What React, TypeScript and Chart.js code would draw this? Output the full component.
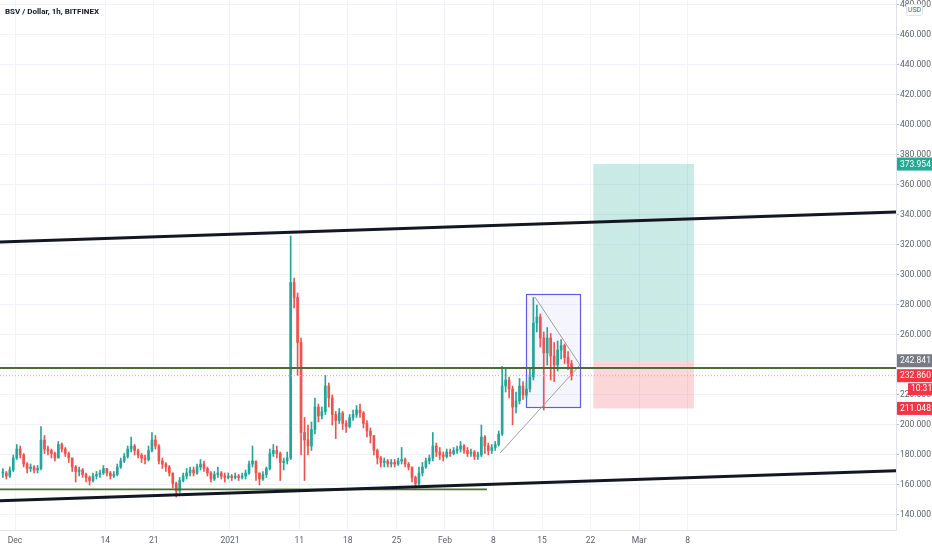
import React, { useEffect, useRef } from "react";
import { Chart, registerables } from "chart.js";

Chart.register(...registerables);

// ---- time axis: days counted from 1 Dec 2020 00:00, 12h candles ----
const candleStartDay = -2;
const candleStepDays = 0.5;
const firstOpen = 168;

const closes = [
  168, 166, 170, 178, 184, 180, 174, 171, 172, 170, 171, 190, 184, 183, 181, 178, 187, 184, 181, 178,
  172, 169, 170, 167, 165, 163, 166, 167, 168, 171, 168, 166, 167, 172, 176, 179, 184, 186, 183, 180,
  178, 177, 183, 190, 186, 176, 174, 172, 168, 161, 156, 163, 166, 168, 170, 168, 172, 174, 171, 168,
  164, 167, 168, 166, 165, 166, 165, 166, 165, 166, 168, 174, 176, 168, 164, 167, 171, 181, 183, 181,
  175, 176, 178, 295, 285, 255, 195, 190, 186, 197, 212, 206, 209, 226, 218, 207, 203, 208, 201, 199,
  205, 207, 210, 208, 201, 196, 193, 183, 178, 175, 176, 174, 175, 174, 176, 177, 174, 172, 165, 161,
  168, 172, 176, 178, 186, 182, 180, 179, 182, 181, 183, 184, 186, 183, 181, 182, 179, 180, 192, 186,
  183, 185, 187, 194, 226, 230, 224, 212, 216, 226, 220, 224, 232, 268, 272, 258, 248, 258, 246, 240,
  250, 253, 245, 241, 232.86,
];
const highs = [
  171, 169, 172, 180, 187, 186, 181, 175, 174, 173, 173, 199, 193, 186, 184, 182, 189, 188, 185, 182,
  178, 173, 172, 171, 168, 166, 168, 169, 170, 173, 171, 169, 169, 174, 178, 181, 186, 192, 187, 184,
  181, 180, 186, 195, 193, 187, 178, 175, 173, 168, 162, 165, 168, 171, 172, 172, 174, 177, 176, 172,
  169, 169, 172, 169, 168, 168, 167, 168, 167, 168, 170, 176, 186, 176, 168, 169, 172, 184, 187, 186,
  182, 178, 182, 326, 298, 288, 258, 205, 200, 202, 218, 214, 212, 233, 228, 220, 209, 211, 209, 203,
  207, 210, 213, 214, 209, 203, 198, 193, 184, 179, 178, 177, 177, 177, 178, 185, 178, 175, 172, 166,
  172, 175, 178, 180, 195, 188, 185, 182, 184, 184, 185, 186, 189, 187, 185, 184, 183, 182, 200, 193,
  188, 187, 189, 196, 239, 238, 232, 226, 222, 231, 229, 229, 238, 285, 280, 274, 262, 265, 261, 255,
  256, 257, 254, 249, 243,
];
const lows = [
  165, 164, 165, 169, 177, 178, 172, 168, 169, 168, 168, 170, 181, 180, 178, 176, 178, 182, 179, 175,
  169, 162, 166, 165, 162, 160, 162, 164, 165, 167, 166, 164, 165, 166, 171, 175, 178, 182, 180, 178,
  175, 174, 176, 182, 184, 174, 171, 169, 166, 158, 152, 155, 162, 164, 166, 166, 167, 170, 169, 166,
  162, 163, 165, 164, 162, 164, 163, 164, 163, 164, 164, 167, 172, 163, 160, 163, 165, 170, 179, 178,
  163, 170, 174, 177, 278, 233, 180, 163, 180, 183, 194, 202, 204, 207, 212, 200, 191, 201, 197, 195,
  198, 203, 205, 205, 198, 192, 188, 180, 174, 172, 172, 172, 172, 172, 173, 174, 172, 170, 162, 158,
  160, 166, 171, 174, 176, 179, 177, 176, 178, 179, 180, 181, 182, 181, 179, 179, 177, 177, 179, 181,
  180, 181, 183, 186, 193, 222, 218, 200, 208, 214, 217, 218, 222, 230, 262, 252, 210, 240, 230, 229,
  236, 244, 241, 237, 230,
];

// ---- axes ----
const xMinDay = -2.163;
const xMaxDay = 127.04;
const xTickDays = [0, 13, 20, 31, 41, 48, 55, 62, 69, 76, 83, 90, 97];
const xTickLabels = ["Dec", "14", "21", "2021", "11", "18", "25", "Feb", "8", "15", "22", "Mar", "8"];
const yMinPrice = 130;
const yMaxPrice = 483.33;
const yTickValues = [140, 160, 180, 200, 220, 240, 260, 280, 300, 320, 340, 360, 380, 400, 420, 440, 460, 480];

// ---- drawings: [day, price] ----
const upperTrend = [[-2.163, 322], [127.04, 342]];
const lowerTrend = [[-2.163, 149.5], [127.04, 169.5]];
const resistanceLine = [[-2.163, 238], [127.04, 238]];
const supportLine = [[-2.163, 157.1], [68.06, 157.1]];
const triangleUpper = [[74.98, 285.3], [81.47, 240]];
const triangleLower = [[69.94, 181.3], [81.47, 240]];
const boxDays = [73.68, 81.51];
const boxPrices = [211.5, 287.1];
const positionDays = [83.4, 97.9];
const lastPrice = 232.86;
const entryPrice = 242.841;
const targetPrice = 373.954;
const stopPrice = 211.048;
const countdownText = "10:31";

const UP = "#26a69a";
const DOWN = "#ef5350";
const GRID = "#f0f3fa";
const AXIS_TEXT = "#5d606b";
const FONT = "'Liberation Sans Narrow', Roboto, 'Noto Sans', sans-serif";

const overlayPlugin = {
  id: "overlay",
  beforeDatasetsDraw(chart: any) {
    const { ctx, chartArea, scales } = chart;
    const x = scales.x;
    const y = scales.y;
    ctx.save();
    ctx.beginPath();
    ctx.rect(chartArea.left, chartArea.top, chartArea.right - chartArea.left, chartArea.bottom - chartArea.top);
    ctx.clip();
    // long position box
    const p0 = x.getPixelForValue(positionDays[0]);
    const p1 = x.getPixelForValue(positionDays[1]);
    const yT = y.getPixelForValue(targetPrice);
    const yE = y.getPixelForValue(entryPrice);
    const yS = y.getPixelForValue(stopPrice);
    ctx.fillStyle = "rgba(34,171,148,0.24)";
    ctx.fillRect(p0, yT, p1 - p0, yE - yT);
    ctx.fillStyle = "rgba(242,54,69,0.2)";
    ctx.fillRect(p0, yE, p1 - p0, yS - yE);
    // rectangle around the triangle
    const b0 = x.getPixelForValue(boxDays[0]);
    const b1 = x.getPixelForValue(boxDays[1]);
    const bt = y.getPixelForValue(boxPrices[1]);
    const bb = y.getPixelForValue(boxPrices[0]);
    ctx.fillStyle = "rgba(93,95,223,0.06)";
    ctx.fillRect(b0, bt, b1 - b0, bb - bt);
    ctx.strokeStyle = "#5d5fdf";
    ctx.lineWidth = 1.2;
    ctx.strokeRect(Math.round(b0) + 0.5, Math.round(bt) + 0.5, Math.round(b1 - b0), Math.round(bb - bt));
    ctx.restore();
  },
  afterDraw(chart: any) {
    const { ctx, chartArea, scales } = chart;
    const y = scales.y;
    const left = chartArea.right + 1;
    const w = 36;
    ctx.save();
    ctx.font = `8.5px ${FONT}`;
    ctx.textBaseline = "middle";
    ctx.textAlign = "left";
    const tags: [number, string][] = [
      [targetPrice, "#22ab94"],
      [entryPrice, "#787b86"],
      [lastPrice, "#f23645"],
      [stopPrice, "#f23645"],
    ];
    for (const [v, c] of tags) {
      const yy = y.getPixelForValue(v);
      ctx.fillStyle = c;
      ctx.fillRect(left, yy - 6.5, w, 13);
      ctx.fillStyle = "#ffffff";
      ctx.fillText(v.toFixed(3), left + 3, yy + 0.5);
    }
    const yl = y.getPixelForValue(lastPrice);
    ctx.fillStyle = "#f23645";
    ctx.fillRect(left + 11, yl + 7.5, 24, 12);
    ctx.fillStyle = "#ffffff";
    ctx.fillText(countdownText, left + 14, yl + 13.5);
    ctx.restore();
  },
};

export default function App() {
  const ref = useRef<HTMLCanvasElement>(null);

  useEffect(() => {
    if (!ref.current) return;
    const opens = closes.map((c, i) => (i === 0 ? firstOpen : closes[i - 1]));
    const xs = closes.map((_, i) => candleStartDay + i * candleStepDays + candleStepDays / 2);
    const colors = closes.map((c, i) => (c >= opens[i] ? UP : DOWN));
    const wickData = xs.map((x, i) => ({ x, y: [lows[i], highs[i]] }));
    const bodyData = xs.map((x, i) => ({ x, y: [opens[i], closes[i]] }));

    const seg = (pts: number[][], color: string, width: number, dash: number[] = []) => ({
      type: "line" as const,
      data: pts.map(([x, y]) => ({ x, y })),
      borderColor: color,
      borderWidth: width,
      borderDash: dash,
      pointRadius: 0,
      fill: false,
      tension: 0,
      order: 0,
    });

    const chart = new Chart(ref.current, {
      type: "bar",
      data: {
        datasets: [
          seg(upperTrend, "#131722", 3.2),
          seg(lowerTrend, "#131722", 3.2),
          seg(resistanceLine, "#4f6b35", 1.8),
          seg(supportLine, "#4f6b35", 1.8),
          seg([[xMinDay, lastPrice], [xMaxDay, lastPrice]], "#f2a07f", 1, [1, 2]),
          seg(triangleUpper, "#a39d96", 1),
          seg(triangleLower, "#a39d96", 1),
          {
            type: "bar",
            data: wickData as any,
            backgroundColor: colors,
            barThickness: 1,
            grouped: false,
            order: 2,
          } as any,
          {
            type: "bar",
            data: bodyData as any,
            backgroundColor: colors,
            barThickness: 2,
            minBarLength: 1,
            grouped: false,
            order: 1,
          } as any,
        ],
      },
      options: {
        responsive: false,
        animation: false,
        events: [],
        layout: { padding: 0 },
        plugins: { legend: { display: false }, tooltip: { enabled: false } },
        scales: {
          x: {
            type: "linear",
            min: xMinDay,
            max: xMaxDay,
            offset: false,
            grid: { color: GRID, offset: false, drawTicks: false },
            border: { color: "#e0e3eb" },
            ticks: {
              padding: 6,
              color: AXIS_TEXT,
              font: { size: 8.5, family: FONT },
              autoSkip: false,
              maxRotation: 0,
              callback: (v: any) => {
                const k = xTickDays.indexOf(Number(v));
                return k >= 0 ? xTickLabels[k] : "";
              },
            },
            afterBuildTicks: (s: any) => {
              s.ticks = xTickDays.map((v) => ({ value: v }));
            },
            afterFit: (s: any) => {
              s.height = 20;
              s.paddingLeft = 0;
              s.paddingRight = 0;
            },
          },
          y: {
            type: "linear",
            position: "right",
            min: yMinPrice,
            max: yMaxPrice,
            grid: { color: GRID, tickLength: 3, tickColor: "#b2b5be" },
            border: { color: "#e0e3eb" },
            ticks: {
              padding: 1,
              color: AXIS_TEXT,
              font: { size: 8.5, family: FONT },
              callback: (v: any) => Number(v).toFixed(3),
            },
            afterBuildTicks: (s: any) => {
              s.ticks = yTickValues.map((v) => ({ value: v }));
            },
            afterFit: (s: any) => {
              s.width = 36;
              s.paddingTop = 0;
              s.paddingBottom = 0;
            },
          },
        },
      } as any,
      plugins: [overlayPlugin],
    });
    return () => chart.destroy();
  }, []);

  return (
    <div style={{ position: "fixed", left: 0, top: 0, width: 932, height: 550, background: "#ffffff" }}>
      <canvas ref={ref} width={932} height={550} style={{ display: "block" }} />
      <div
        style={{
          position: "absolute",
          left: 5,
          top: 6,
          font: `700 8px ${FONT}`,
          color: "#131722",
          lineHeight: "11px",
          whiteSpace: "nowrap",
        }}
      >
        BSV / Dollar, 1h, BITFINEX
      </div>
      <div
        style={{
          position: "absolute",
          left: 906,
          top: 4,
          width: 17,
          height: 12,
          boxSizing: "border-box",
          border: "1px solid #e0e3eb",
          borderRadius: 2,
          background: "#ffffff",
          font: `7px ${FONT}`,
          color: "#5d606b",
          textAlign: "center",
          lineHeight: "10px",
        }}
      >
        USD
      </div>
    </div>
  );
}
